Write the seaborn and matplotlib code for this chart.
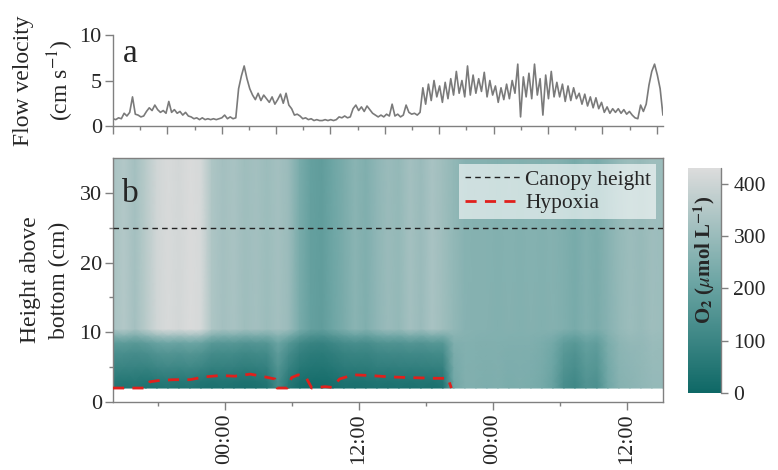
import numpy as np
import pandas as pd
import seaborn as sns
import matplotlib.pyplot as plt
from matplotlib.colors import LinearSegmentedColormap

# time axis in hours since 14:00 on the first day
t_end = 49.25
clock_ticks = [10, 22, 34, 46]
clock_labels = ["00:00", "12:00", "00:00", "12:00"]
clock_minor = [4, 16, 28, 40]

# flow velocity (cm s-1), one value every 15 min
flow_velocity = [
    0.8, 0.7, 0.9, 0.8, 1.4, 1.1, 1.5, 3.2, 1.3, 1.2, 1.0, 1.1,
    1.6, 2.0, 1.7, 2.3, 1.8, 1.5, 1.7, 1.4, 2.7, 1.5, 1.8, 1.4,
    1.6, 1.2, 1.5, 1.1, 1.0, 0.8, 0.9, 0.7, 0.9, 0.7, 0.8, 0.7,
    0.8, 0.7, 0.8, 0.9, 1.2, 0.8, 1.0, 0.8, 0.9, 4.1, 5.5, 6.6,
    5.2, 4.1, 3.4, 2.9, 3.6, 2.8, 3.4, 3.0, 2.6, 3.2, 2.4, 2.9,
    3.5, 2.5, 3.6, 2.3, 1.9, 1.2, 1.3, 1.1, 0.8, 0.9, 0.7, 0.8,
    0.6, 0.7, 0.6, 0.6, 0.7, 0.6, 0.7, 0.6, 0.7, 1.0, 0.9, 1.1,
    0.9, 1.0, 1.9, 2.3, 1.7, 2.1, 1.6, 2.2, 1.8, 1.4, 1.2, 1.0,
    1.2, 1.0, 1.3, 1.1, 2.4, 1.1, 1.3, 1.0, 1.2, 2.3, 1.5, 1.3,
    1.4, 1.2, 1.5, 4.2, 2.4, 4.6, 2.8, 5.0, 3.2, 4.4, 2.6, 4.8,
    3.0, 5.2, 3.4, 6.0, 3.6, 5.0, 3.2, 6.6, 3.4, 5.6, 3.6, 5.2,
    3.8, 5.9, 3.2, 5.0, 3.4, 4.4, 2.6, 4.2, 2.9, 4.6, 3.0, 5.0,
    3.6, 6.8, 1.0, 5.4, 3.2, 5.8, 3.0, 6.8, 3.4, 5.2, 1.2, 5.6,
    3.0, 6.0, 3.2, 4.8, 3.2, 4.6, 2.7, 4.4, 2.8, 4.2, 3.0, 3.6,
    2.4, 3.5, 2.2, 3.2, 2.0, 3.1, 1.9, 2.6, 1.5, 2.1, 1.4, 1.9,
    1.5, 1.9, 1.4, 1.8, 1.3, 1.6, 1.2, 0.9, 0.8, 2.3, 1.6, 2.4,
    4.5, 6.0, 6.8, 5.6, 4.1, 1.2,
]
flow_hours = np.arange(len(flow_velocity)) * 0.25

# O2 (umol L-1) above the canopy layer and at the bed, columns across the record
o2_upper = [
    330, 350, 320, 360, 405, 420, 410, 425, 415, 340,
    320, 330, 310, 320, 305, 320, 300, 235, 195, 185,
    215, 240, 270, 250, 280, 300, 290, 320, 300, 330,
    310, 285, 265, 260, 260, 255, 260, 255, 260, 255,
    260, 250, 235, 255, 240, 265, 290, 305, 295, 310,
    305,
]
o2_bed = [
    50, 40, 45, 35, 40, 45, 40, 45, 35, 30,
    35, 30, 25, 30, 40, 120, 50, 20, 15, 15,
    20, 30, 25, 30, 35, 30, 35, 30, 35, 30,
    40, 220, 250, 250, 245, 250, 240, 245, 240, 230,
    200, 130, 110, 150, 140, 220, 260, 270, 280, 290,
    290,
]
o2_hours = np.linspace(0, t_end, len(o2_upper))

# how far the bed water mixes into the upper water with height
profile_height = [2, 3, 5, 7, 8.5, 9.6, 10.5, 35]
profile_weight = [0, 0.04, 0.18, 0.3, 0.45, 0.75, 1, 1]

# hypoxia boundary (cm)
hypoxia_hours = [0, 0.6, 2.9, 3.3, 4.2, 5.5, 6.9, 8.2, 9.6, 10.9, 12.3, 13.6, 14.5, 14.7,
                 15.6, 16.0, 16.6, 17.3, 17.8, 19.0, 19.6, 20.3, 21.5, 23.0, 24.8, 26.6,
                 28.8, 30.0, 30.3]
hypoxia_height = [2.0, 2.0, 2.0, 2.9, 3.1, 3.2, 3.2, 3.6, 3.8, 3.7, 4.0, 3.6, 3.3, 2.0,
                  2.0, 3.5, 3.9, 3.5, 2.0, 2.2, 2.1, 3.3, 3.9, 3.8, 3.6, 3.5,
                  3.4, 3.4, 2.0]
canopy_height = 25

sns.set_theme(style="ticks")
plt.rcParams["font.family"] = ["Liberation Serif", "DejaVu Serif"]
plt.rcParams["mathtext.fontset"] = "stix"

spine_col = "#808080"
fs = 16

fig = plt.figure(figsize=(7.78, 4.70), dpi=100)
ax_top = fig.add_axes([0.1452, 0.7319, 0.7069, 0.1936])
ax = fig.add_axes([0.1452, 0.1447, 0.7069, 0.5191])
cax = fig.add_axes([0.8843, 0.1638, 0.0424, 0.4787])

# panel a
df_flow = pd.DataFrame({"hours": flow_hours, "velocity": flow_velocity})
sns.lineplot(data=df_flow, x="hours", y="velocity", ax=ax_top, color="#7a7a7a", lw=1.2)
ax_top.set_xlim(0, t_end)
ax_top.set_ylim(0, 10)
ax_top.set_yticks([0, 5, 10])
ax_top.set_xticks(np.arange(11) * 4.87)
ax_top.set_xticks(np.arange(10) * 4.87 + 2.435, minor=True)
ax_top.set_xticklabels([])
ax_top.set_xlabel("")
ax_top.set_ylabel("Flow velocity\n(cm s$^{-1}$)", fontsize=17, linespacing=1.5)
ax_top.yaxis.set_label_coords(-0.068, 0.5)
for s in ["top", "right"]:
    ax_top.spines[s].set_visible(False)
ax_top.text(0.018, 0.7, "a", transform=ax_top.transAxes, fontsize=24, va="baseline")

# panel b
cmap = LinearSegmentedColormap.from_list("o2", ["#0e6866", "#6ea6a5", "#dcdcdc"])
w = np.array(profile_weight)[:, None]
upper = np.array(o2_upper)[None, :]
bed = np.array(o2_bed)[None, :]
o2 = bed + w * (upper - bed)
X, Y = np.meshgrid(o2_hours, profile_height)
mesh = ax.pcolormesh(X, Y, o2, shading="gouraud", cmap=cmap, vmin=0, vmax=430, zorder=1)

canopy_line = ax.axhline(canopy_height, color="#222222", lw=1.0, ls=(0, (4, 3)),
                         label="Canopy height", zorder=3)
hyp_line, = ax.plot(hypoxia_hours, hypoxia_height, color="#e0201c", lw=2.0,
                    ls=(0, (4, 3)), label="Hypoxia", zorder=3)

ax.set_xlim(0, t_end)
ax.set_ylim(0, 35)
ax.set_yticks([0, 10, 20, 30])
ax.set_yticks([5, 15, 25], minor=True)
ax.set_xticks(clock_ticks)
ax.set_xticklabels(clock_labels, rotation=90)
ax.set_xticks(clock_minor, minor=True)
ax.set_ylabel("Height above\nbottom (cm)", fontsize=17, linespacing=1.5)
ax.yaxis.set_label_coords(-0.078, 0.5)
ax.text(0.016, 0.82, "b", transform=ax.transAxes, fontsize=24, va="baseline")

leg = ax.legend(handles=[canopy_line, hyp_line], loc="upper right", fontsize=15.5,
                frameon=True, framealpha=0.6, fancybox=False, edgecolor="none",
                handlelength=2.6, handletextpad=0.2, borderaxespad=0.3,
                borderpad=0.25, labelspacing=0.15)

for a in [ax_top, ax]:
    for s in a.spines.values():
        s.set_color(spine_col)
        s.set_linewidth(1.0)
    a.tick_params(which="major", length=6, width=1, color=spine_col, labelsize=fs, pad=2)
    a.tick_params(which="minor", length=3, width=1, color=spine_col)

# colorbar
cbar = fig.colorbar(mesh, cax=cax, ticks=[0, 100, 200, 300, 400])
cbar.outline.set_visible(False)
cax.axvline(1, color=spine_col, lw=1.0, clip_on=False)
cax.tick_params(length=5, width=1, color=spine_col, labelsize=15.5, pad=4)
cax.text(0.5, 0.59, r"O$_{\mathbf{2}}$ ($\mu$mol L$^{\mathbf{-1}}$)", transform=cax.transAxes,
         rotation=90, ha="center", va="center", fontsize=15, fontweight="bold")

fig.savefig("out.png", dpi=100)
